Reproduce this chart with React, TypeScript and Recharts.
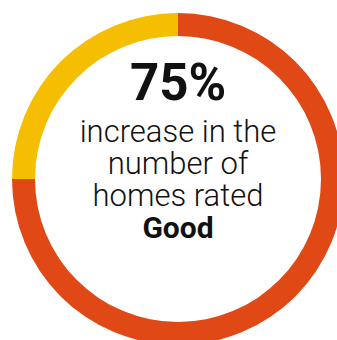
import { Pie, PieChart, Cell } from "recharts";

const segments = ["Good", "Other"];
const values = [75, 25];
const colors = ["#E04816", "#F6BE00"];
const headline = "75%";
const captionLines = ["increase in the", "number of", "homes rated"];
const emphasis = "Good";

const data = segments.map((name, i) => ({ name, value: values[i] }));

export default function App() {
  return (
    <div style={{ position: "absolute", left: 0, top: 0, width: 337, height: 340, overflow: "hidden", background: "#fff" }}>
      <PieChart width={337} height={340} margin={{ top: 0, right: 0, bottom: 0, left: 0 }}>
        <Pie
          data={data}
          dataKey="value"
          cx={178}
          cy={179}
          innerRadius={143}
          outerRadius={166}
          startAngle={90}
          endAngle={-270}
          stroke="none"
          isAnimationActive={false}
        >
          {data.map((d, i) => (
            <Cell key={d.name} fill={colors[i]} />
          ))}
        </Pie>
      </PieChart>
      <svg width={337} height={340} style={{ position: "absolute", left: 0, top: 0 }}>
        <g fontFamily="Roboto, sans-serif" fill="#111" textAnchor="middle">
          <text x={178} y={100} fontSize={51} fontWeight={700}>{headline}</text>
          {captionLines.map((l, i) => (
            <text key={l} x={178} y={142 + i * 32} fontSize={31} fontWeight={300}>{l}</text>
          ))}
          <text x={178} y={238} fontSize={30} fontWeight={700}>{emphasis}</text>
        </g>
      </svg>
    </div>
  );
}
